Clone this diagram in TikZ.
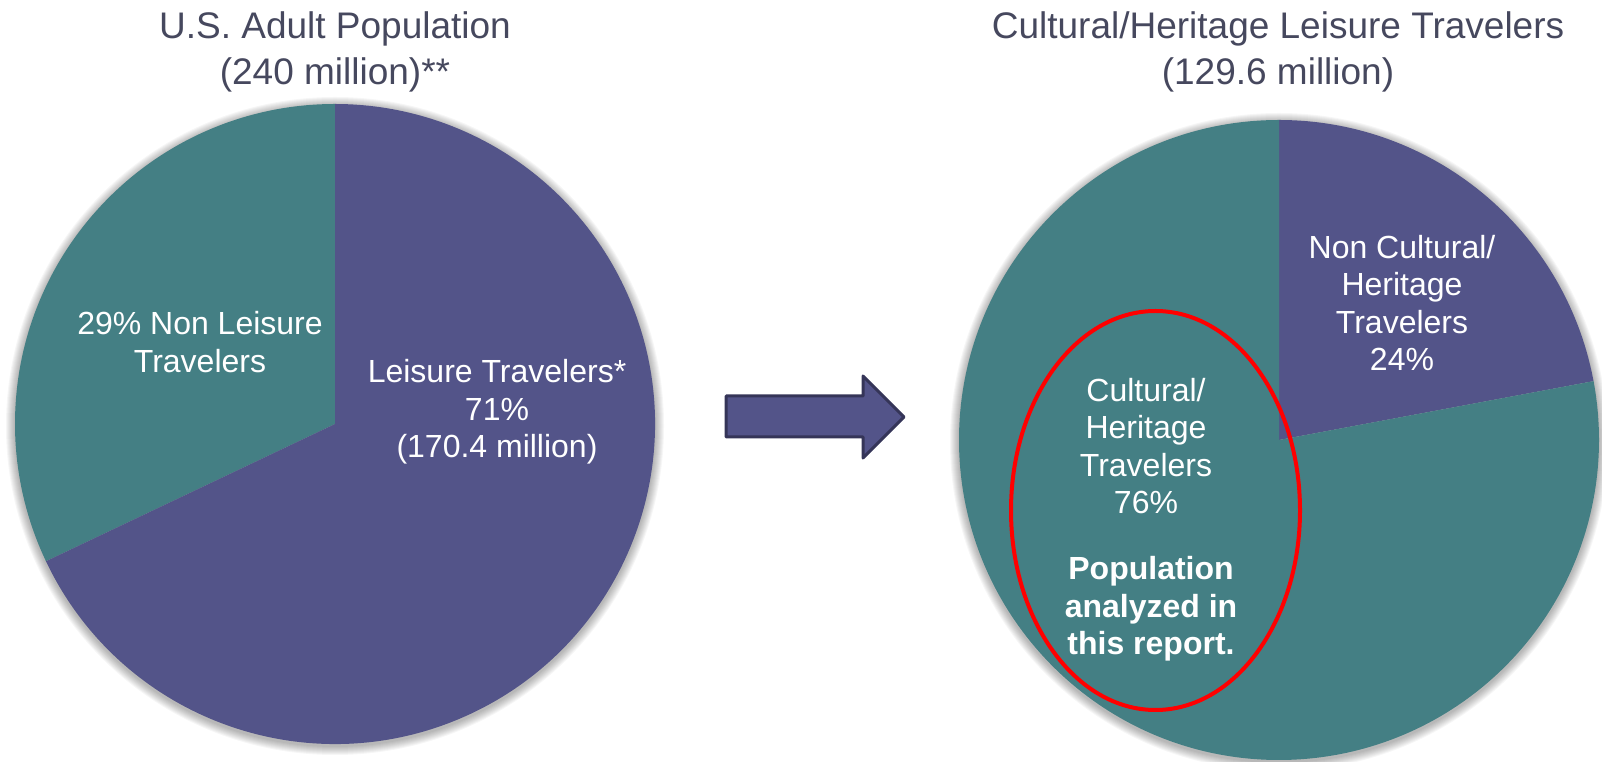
\documentclass[tikz,border=0pt]{standalone}
\usepackage{fontspec}
\setmainfont{Liberation Sans}
\usetikzlibrary{shapes.geometric}
\definecolor{pieblue}{RGB}{83,84,137}
\definecolor{pieteal}{RGB}{68,127,132}
\definecolor{titlegray}{RGB}{70,72,94}
\definecolor{arrowedge}{RGB}{53,53,88}
\tikzset{
  titletext/.style={text=titlegray, font=\fontsize{37}{46}\selectfont, inner sep=0pt, anchor=base},
  slicetext/.style={text=white, font=\fontsize{32}{37.5}\selectfont, align=center, inner sep=0pt},
  boldtext/.style={text=white, font=\fontsize{32}{37.5}\selectfont\bfseries, align=center, inner sep=0pt},
  pieshadow/.style={fill=black, opacity=0.035},
  blockarrow/.style={fill=pieblue, draw=arrowedge, line width=3pt, line join=round},
  highlight/.style={draw=red, line width=4pt}
}
\begin{document}
\begin{tikzpicture}[x=1pt,y=1pt]
\useasboundingbox (0,0) rectangle (1602,762);
% shadows
\foreach \k in {1,...,9}{
  \fill[pieshadow] (335,336) circle ({320+\k});
  \fill[pieshadow] (1279,320) circle ({320+\k});
}
% left pie
\coordinate (lc) at (335,338);
\fill[pieteal] (lc) -- ++(90:320) arc[start angle=90, end angle=205.4, radius=320] -- cycle;
\fill[pieblue] (lc) -- ++(205.4:320) arc[start angle=205.4, end angle=450, radius=320] -- cycle;
% right pie
\coordinate (rc) at (1279,322);
\fill[pieblue] (rc) -- ++(10.6:320) arc[start angle=10.6, end angle=90, radius=320] -- cycle;
\fill[pieteal] (rc) -- ++(90:320) arc[start angle=90, end angle=370.6, radius=320] -- cycle;
% titles
\node[titletext] (t1a) at (335,723) {U.S. Adult Population};
\node[titletext] (t1b) at (335,677) {(240 million)**};
\node[titletext] (t2a) at (1278,723) {Cultural/Heritage Leisure Travelers};
\node[titletext] (t2b) at (1278,677) {(129.6 million)};
% left labels
\node[slicetext] (nonleisure) at (200,420) {29\% Non Leisure\\Travelers};
\node[slicetext] (leisure) at (497,350) {Leisure Travelers*\\71\%\\(170.4 million)};
% right labels
\node[slicetext] (noncult) at (1402,459) {Non Cultural/\\Heritage\\Travelers\\24\%};
\node[slicetext] (cult) at (1146,316) {Cultural/\\Heritage\\Travelers\\76\%};
\node[boldtext] (analyzed) at (1151,153) {Population\\analyzed in\\this report.};
% red ellipse
\node[highlight, ellipse, minimum width=289, minimum height=399, inner sep=0pt] (ring) at (1155.5,251.5) {};
% arrow
\draw[blockarrow] (726,366) -- (863,366) -- (863,386) -- (904,345) -- (863,304) -- (863,325) -- (726,325) -- cycle;
\end{tikzpicture}
\end{document}
